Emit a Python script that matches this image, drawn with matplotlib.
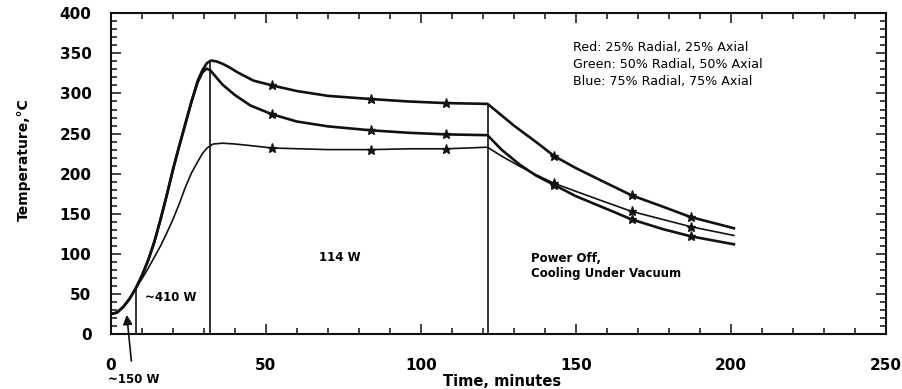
import numpy as np
import matplotlib
matplotlib.use("Agg")
import matplotlib.pyplot as plt
from matplotlib.ticker import MultipleLocator

plt.rcParams['font.family'] = ['DejaVu Sans']

# curva superior (25% radial, 25% axial)
time_top = [0, 2, 4, 6, 8, 10, 12, 14, 16, 18, 20, 22, 24, 26, 28, 29.5, 31, 32.3, 34, 36, 38,
            41, 46, 52, 60, 70, 84, 96, 108, 121.5, 125, 130, 137, 143, 150, 160, 168, 178,
            187, 201]
temp_top = [25, 27, 34, 44, 57, 73, 92, 115, 143, 173, 205, 234, 262, 290, 316, 329, 338, 341,
            340, 337, 333, 326, 316, 310, 303, 297, 293, 290, 288, 287, 276, 260, 240, 222,
            207, 188, 173, 159, 146, 132]

# curva media (50% radial, 50% axial)
time_mid = [0, 2, 4, 6, 8, 10, 12, 14, 16, 18, 20, 22, 24, 26, 28, 29.5, 30.8, 32, 34, 36, 40,
            45, 52, 60, 70, 84, 96, 108, 121.5, 126, 132, 137, 143, 150, 160, 168, 178, 187,
            201]
temp_mid = [25, 27, 34, 44, 57, 73, 92, 115, 143, 173, 205, 234, 262, 290, 314, 326, 331, 329,
            320, 311, 298, 285, 274, 265, 259, 254, 251, 249, 248, 230, 211, 198, 186, 172,
            156, 143, 131, 122, 112]

# curva inferior (75% radial, 75% axial)
time_low = [0, 2, 4, 6, 8, 10, 12, 14, 16, 18, 20, 22, 24, 26, 28, 29.5, 31, 33, 36, 40, 45, 52,
            70, 84, 96, 108, 121.5, 126, 132, 137, 143, 150, 160, 168, 178, 187, 201]
temp_low = [25, 27, 34, 44, 57, 69, 82, 96, 110, 126, 143, 162, 183, 201, 215, 225, 232, 237,
            238, 237, 235, 232, 230, 230, 231, 231, 233, 222, 209, 199, 188, 178, 164, 153, 143,
            134, 123]

marker_times = [52, 84, 108, 143, 168, 187]

# lineas verticales de cambio de potencia
phase_times = [8, 32, 121.5]
phase_tops = [57, 340, 287]

legend_lines = ["Red: 25% Radial, 25% Axial",
                "Green: 50% Radial, 50% Axial",
                "Blue: 75% Radial, 75% Axial"]

fig = plt.figure(figsize=(9.02, 3.89), dpi=100)
ax = fig.add_axes([0.123, 0.141, 0.859, 0.825])

ink = '#111111'
series = [(time_top, temp_top, 1.9), (time_mid, temp_mid, 1.9), (time_low, temp_low, 1.2)]
for t, T, lw in series:
    idx = [t.index(m) for m in marker_times if m in t]
    ax.plot(t, T, color=ink, lw=lw, marker='*', ms=6.5, markevery=idx,
            solid_joinstyle='round')

ax.vlines(phase_times, 0, phase_tops, color=ink, lw=1.2)

ax.set_xlim(0, 250)
ax.set_ylim(0, 400)
ax.xaxis.set_major_locator(MultipleLocator(50))
ax.xaxis.set_minor_locator(MultipleLocator(10))
ax.yaxis.set_major_locator(MultipleLocator(50))
ax.yaxis.set_minor_locator(MultipleLocator(10))
ax.tick_params(which='both', direction='in', top=True, right=True, color=ink, width=1.1)
ax.tick_params(which='major', length=7)
ax.tick_params(which='minor', length=4.5)
ax.tick_params(axis='x', pad=17)
ax.tick_params(axis='y', pad=14)
for lab in ax.get_xticklabels() + ax.get_yticklabels():
    lab.set_fontweight('bold')
    lab.set_fontsize(11)
for s in ax.spines.values():
    s.set_linewidth(1.5)
    s.set_color(ink)

fig.text(0.557, 0.023, "Time, minutes", ha='center', va='center_baseline', fontsize=10.5,
         fontweight='bold')
fig.text(0.026, 0.59, "Temperature,°C", ha='center', va='center', rotation=90,
         fontsize=10, fontweight='bold')

ax.text(11, 46, "~410 W", fontsize=8.5, fontweight='bold', va='center')
ax.text(67, 95, "114 W", fontsize=8.5, fontweight='bold', va='center')
ax.text(135.5, 102, "Power Off,\nCooling Under Vacuum", fontsize=8.5, fontweight='bold',
        va='top', linespacing=1.2)
ax.text(149, 366, "\n".join(legend_lines), fontsize=9.1, va='top', linespacing=1.4)

ax.annotate("~150 W", xy=(5.1, 24), xytext=(7.2, -49), textcoords='data', ha='center',
            va='top', fontsize=8.5, fontweight='bold', annotation_clip=False,
            arrowprops=dict(arrowstyle='-|>', color=ink, lw=1.2, mutation_scale=14,
                            shrinkA=7, shrinkB=0))

fig.savefig("out.png", dpi=100)
